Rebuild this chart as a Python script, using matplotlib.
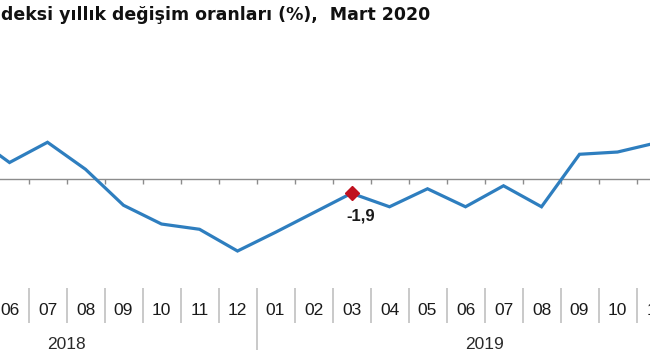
import matplotlib.pyplot as plt

# months shown (index 0 = 03/2018)
months = ['05', '06', '07', '08', '09', '10', '11', '12',
          '01', '02', '03', '04', '05', '06', '07', '08', '09', '10', '11']
values = [5.9, 2.2, 4.9, 1.3, -3.5, -6.0, -6.7, -9.6,
          -7.1, -4.5, -1.9, -3.7, -1.3, -3.7, -0.9, -3.7, 3.3, 3.6, 4.8]
first_idx = 2          # 05/2018
years = ['2018', '2019']
year_spans = [(0, 9), (10, 21)]   # month index range of each year
highlight = 10         # position in values of 03/2019
highlight_label = '-1,9'
title = 'deksi yıllık değişim oranları (%),  Mart 2020'

x = list(range(first_idx, first_idx + len(values)))

fig = plt.figure(figsize=(6.5, 3.6), dpi=100)
ax = fig.add_axes([0, 0, 1, 1])
ax.axis('off')
ax.set_xlim(2.75, 19.855)
ax.set_ylim(-24.13, 23.87)

# zero line with small tick marks at month boundaries
ax.axhline(0, color='#8c8c8c', lw=1)
bounds = [i - 0.5 for i in range(0, 23)]
ax.vlines(bounds, -0.7, 0, color='#8c8c8c', lw=1)

ax.plot(x, values, color='#2e7ebf', lw=2.3, solid_joinstyle='miter')
ax.plot(x[highlight], values[highlight], marker='D', color='#c0111f',
        markersize=7, zorder=3)
ax.text(x[highlight] + 0.25, values[highlight] - 3.0, highlight_label,
        ha='center', va='center', fontsize=12, fontweight='bold',
        family='Liberation Sans', color='#1a1a1a')

# month labels and separators
label_y = -17.5
for xi, m in zip(x, months):
    ax.text(xi, label_y, m, ha='center', va='center', fontsize=12.5,
            family='Liberation Sans', color='#1a1a1a')
for b in bounds:
    low = -22.8 if b == 9.5 else -19.2
    ax.vlines(b, low, -14.5, color='#c0c0c0', lw=1.2)

for yr, (a, b) in zip(years, year_spans):
    ax.text((a + b) / 2, -22.1, yr, ha='center', va='center', fontsize=12.5,
            family='Liberation Sans', color='#2a2a2a')

fig.text(430 / 650, 1 - 15 / 360, title, ha='right', va='center',
         fontsize=12.5, fontweight='bold', family='DejaVu Sans', color='#111111')

fig.savefig('out.png', dpi=100)
